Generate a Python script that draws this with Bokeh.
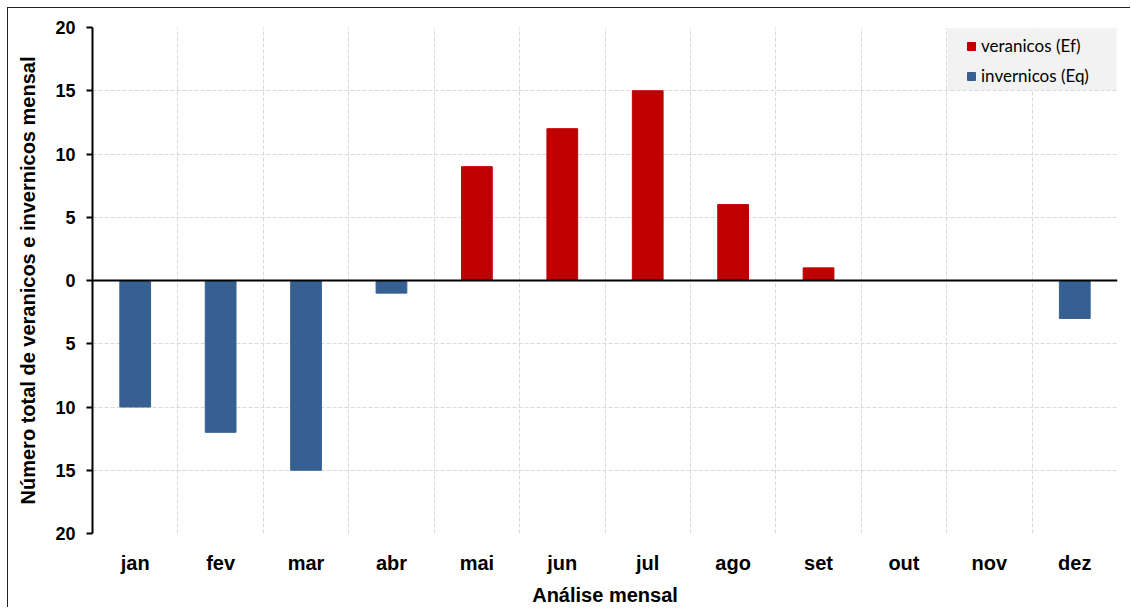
from bokeh.plotting import figure
from bokeh.models import (FactorRange, FixedTicker, CustomJSTickFormatter, Span,
                          Legend, LegendItem, BoxAnnotation, ColumnDataSource)
from bokeh.embed import file_html
from bokeh.resources import INLINE

months = ["jan", "fev", "mar", "abr", "mai", "jun", "jul", "ago", "set", "out", "nov", "dez"]
veranicos = [0, 0, 0, 0, 9, 12, 15, 6, 1, 0, 0, 0]
invernicos = [-10, -12, -15, -1, 0, 0, 0, 0, 0, 0, 0, -3]
y_ticks = [-20, -15, -10, -5, 0, 5, 10, 15, 20]

RED = "#C00000"
BLUE = "#376092"
FONT = "Liberation Sans"

p = figure(x_range=FactorRange(*months), y_range=(-20, 20),
           width=1123, height=600, output_backend="svg", toolbar_location=None,
           min_border_left=84, min_border_right=14, min_border_top=19, min_border_bottom=75,
           styles={"margin-left": "7px", "margin-top": "7px",
                   "border-left": "1px solid #222", "border-top": "1px solid #222"})
p.outline_line_color = None
p.background_fill_color = "white"

src = ColumnDataSource(dict(m=months, v=veranicos, i=invernicos))
r1 = p.vbar(x="m", top="v", bottom=0, width=0.36, source=src, fill_color=RED, line_color=RED)
r2 = p.vbar(x="m", top="i", bottom=0, width=0.36, source=src, fill_color=BLUE, line_color=BLUE)

# grids
p.ygrid.ticker = FixedTicker(ticks=y_ticks)
p.ygrid.grid_line_color = "#d9d9d9"
p.ygrid.grid_line_dash = "4 2"
p.xgrid.ticker = FixedTicker(ticks=list(range(1, 13)))
p.xgrid.grid_line_color = "#d9d9d9"
p.xgrid.grid_line_dash = "4 2"

# zero line
p.add_layout(Span(location=0, dimension="width", line_color="black", line_width=2))

# y axis
p.yaxis.ticker = FixedTicker(ticks=y_ticks)
p.yaxis.formatter = CustomJSTickFormatter(code="return Math.abs(tick).toString();")
p.yaxis.axis_line_color = "black"
p.yaxis.axis_line_width = 2
p.yaxis.major_tick_out = 6
p.yaxis.major_tick_in = 0
p.yaxis.major_tick_line_width = 2
p.yaxis.minor_tick_line_color = None
p.yaxis.major_label_text_font = FONT
p.yaxis.major_label_text_font_style = "bold"
p.yaxis.major_label_text_font_size = "18px"
p.yaxis.major_label_text_color = "black"
p.yaxis.major_label_standoff = 11
p.yaxis.axis_label = "Número total de veranicos e invernicos mensal"
p.yaxis.axis_label_text_font = FONT
p.yaxis.axis_label_text_font_style = "bold"
p.yaxis.axis_label_text_font_size = "20px"
p.yaxis.axis_label_text_color = "black"
p.yaxis.axis_label_standoff = 13

# x axis
p.xaxis.axis_line_color = None
p.xaxis.major_tick_line_color = None
p.xaxis.minor_tick_line_color = None
p.xaxis.major_label_text_font = FONT
p.xaxis.major_label_text_font_style = "bold"
p.xaxis.major_label_text_font_size = "20px"
p.xaxis.major_label_text_color = "black"
p.xaxis.major_label_standoff = 12
p.xaxis.axis_label = "Análise mensal"
p.xaxis.axis_label_text_font = FONT
p.xaxis.axis_label_text_font_style = "bold"
p.xaxis.axis_label_text_font_size = "20px"
p.xaxis.axis_label_text_color = "black"
p.xaxis.axis_label_standoff = 7

# legend background box
p.add_layout(BoxAnnotation(left=10.01, right=11.99, top=19.95, bottom=15.05,
                           fill_color="#f2f2f2", fill_alpha=1, line_alpha=0))

legend = Legend(items=[LegendItem(label="veranicos (Ef)", renderers=[r1]),
                       LegendItem(label="invernicos (Eq)", renderers=[r2])],
                location="top_right", margin=8, padding=8, spacing=9,
                glyph_width=10, glyph_height=10, label_standoff=5, label_width=128,
                label_height=20,
                background_fill_alpha=0, border_line_color=None,
                label_text_font="Lato", label_text_font_size="17px", label_text_color="black")
p.add_layout(legend)

open("out.html", "w").write(file_html(p, INLINE))
